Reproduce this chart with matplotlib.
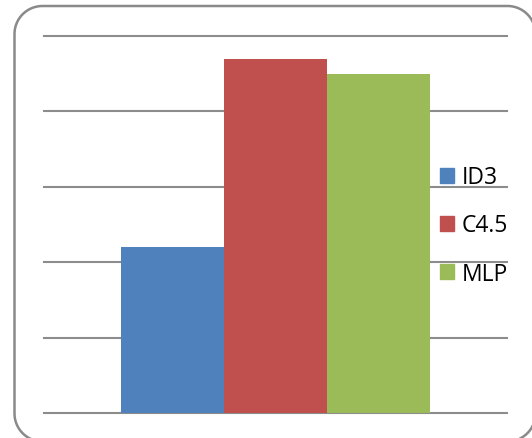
import numpy as np
import matplotlib.pyplot as plt
from matplotlib.patches import Polygon, Patch

plt.rcParams['font.family'] = ['Open Sans', 'DejaVu Sans']

# 数据
methods = ['ID3', 'C4.5', 'MLP']
values = [44, 94, 90]
colors = ['#4F81BD', '#C0504D', '#9BBB59']

fig = plt.figure(figsize=(5.32, 4.39), dpi=100)

# 外框 圆角, 用折线画 (像素坐标, 右边和下边超出画布)
left, right, bottom, top, r = 14.5, 535.5, -3.5, 432.0, 28.0
pts = []
for cx, cy, a0 in [(right - r, top - r, 0), (left + r, top - r, 90),
                   (left + r, bottom + r, 180), (right - r, bottom + r, 270)]:
    t = np.radians(np.linspace(a0, a0 + 90, 30))
    pts.append(np.column_stack([cx + r * np.cos(t), cy + r * np.sin(t)]))
pts = np.vstack(pts) / 100.0
border = Polygon(pts, closed=True, fill=False, edgecolor='#8a8a8a', linewidth=1.8,
                 transform=fig.dpi_scale_trans)
fig.patches.append(border)

ax = fig.add_axes([44 / 532, 1 - 414 / 439, 463 / 532, 377 / 439])
x = np.arange(len(methods)) - 1
ax.bar(x, values, width=1.0, color=colors, zorder=3)
ax.set_xlim(-2.25, 2.25)
ax.set_ylim(0, 100)
ax.set_yticks(np.arange(0, 101, 20))
ax.grid(axis='y', color='#8c8c8c', linewidth=1.5, zorder=0)
for line in ax.get_ygridlines():
    line.set_clip_on(False)
ax.tick_params(left=False, bottom=False, labelleft=False, labelbottom=False)
for s in ax.spines.values():
    s.set_visible(False)

handles = [Patch(color=c) for c in colors]
fig.legend(handles, methods, loc='center left', bbox_to_anchor=(440 / 532, 1 - 226.5 / 439),
           frameon=False, fontsize=16.5, handlelength=0.61, handleheight=0.61,
           handletextpad=0.35, labelspacing=1.05, borderpad=0, borderaxespad=0)

fig.savefig('out.png', dpi=100)
